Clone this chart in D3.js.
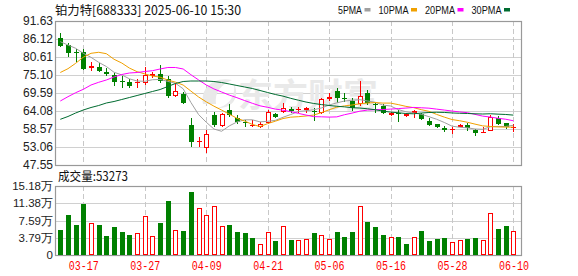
<!DOCTYPE html>
<html><head><meta charset="utf-8">
<script src="https://cdn.jsdelivr.net/npm/d3@7"></script>
<style>body{margin:0;background:#fff}svg{display:block}</style>
</head><body><svg id="c" width="578" height="276"></svg>
<script>
const dates = ["03-12","03-13","03-14","03-17","03-18","03-19","03-20","03-21","03-24","03-25",
"03-26","03-27","03-28","03-31","04-01","04-02","04-03","04-07","04-08","04-09",
"04-10","04-11","04-14","04-15","04-16","04-17","04-18","04-21","04-22","04-23",
"04-24","04-25","04-28","04-29","04-30","05-06","05-07","05-08","05-09","05-12",
"05-13","05-14","05-15","05-16","05-19","05-20","05-21","05-22","05-23","05-26",
"05-27","05-28","05-29","05-30","06-03","06-04","06-05","06-06","06-09","06-10"];
const open = [86.33,84.28,82.14,82.23,77.15,77.46,76.11,75.10,73.36,73.05,
72.56,72.56,74.79,75.41,73.88,68.76,69.28,59.79,54.45,52.85,
62.86,59.58,64.39,61.85,60.62,59.49,59.27,60.31,63.16,63.87,
64.78,64.29,64.48,64.17,63.38,67.75,70.20,67.97,67.14,66.22,
69.68,66.22,65.70,62.76,63.56,62.70,63.38,63.07,61.02,60.01,
58.97,58.17,59.27,59.79,58.26,57.56,58.05,62.03,60.31,58.75];
const high = [87.86,84.99,82.97,82.97,79.17,78.87,77.15,75.80,74.79,73.88,
73.78,77.46,76.11,78.16,74.79,72.56,69.99,61.85,56.03,58.26,
63.87,63.38,66.22,62.86,61.33,61.33,60.71,64.39,63.56,66.44,
65.40,65.40,65.40,64.91,68.15,69.50,71.03,69.50,67.97,73.36,
70.51,66.40,66.22,63.87,64.39,63.56,64.39,63.56,61.85,60.10,
59.49,59.27,60.10,60.31,58.48,59.27,62.86,62.55,60.50,60.01];
const low = [83.76,80.70,79.17,76.63,76.42,76.02,74.89,71.82,71.03,71.21,
71.03,72.04,74.27,72.74,68.15,68.46,66.22,53.15,52.97,51.32,
59.27,59.27,62.15,60.10,59.09,59.09,58.88,60.01,61.85,63.56,
63.56,63.38,63.56,61.11,63.16,67.14,66.62,66.93,64.08,65.61,
65.92,63.56,63.16,62.55,60.80,62.15,62.03,61.33,59.49,58.97,
57.74,57.04,59.09,58.05,56.43,57.44,57.96,59.79,58.48,57.74];
const close = [84.07,81.93,81.85,76.84,77.85,76.42,75.50,73.05,72.87,71.82,
73.05,75.10,75.41,73.36,68.76,70.20,66.62,54.68,54.80,56.95,
59.79,63.16,62.86,60.80,60.31,59.79,60.01,63.77,62.15,65.09,
63.99,64.60,65.00,63.68,67.75,68.46,67.97,67.75,64.91,68.67,
66.44,66.01,63.40,63.56,63.20,63.10,64.08,61.54,59.79,59.27,
58.17,58.48,59.79,58.97,57.44,57.74,62.34,60.10,59.15,59.25];
// volume in 万 (10k lots)
const volume = [5.60,8.86,6.69,11.26,7.12,6.69,4.29,6.25,5.16,4.51,
4.94,8.65,4.22,6.97,11.91,5.60,5.23,13.94,10.32,8.86,
10.82,6.47,6.69,5.01,4.79,3.79,2.33,5.16,3.05,6.47,
3.20,3.20,3.57,4.79,4.51,3.42,5.01,3.86,5.01,10.82,
7.34,6.25,4.51,4.07,3.86,2.33,4.07,5.38,3.05,3.42,
3.64,2.77,3.35,3.42,3.64,3.20,9.23,5.82,6.47,5.3273];
// moving-average values before enough visible history exists
const ma5Head = [85.29,84.28,83.27,81.74];
const ma10Head = [75.87,77.03,78.68,80.55,81.74,82.05,81.62,79.91,78.77];
const ma20Head = [67.14,68.46,69.68,70.72,72.04,72.87,73.57,74.49,75.25,75.71,
75.87,76.17,76.42,76.94,77.40,77.40,76.94,75.20,73.60];
const ma30Head = [61.54,62.40,63.47,64.39,65.15,65.76,66.53,66.99,67.60,68.21,
68.82,69.44,70.05,70.66,71.58,72.50,73.11,73.26,73.26,73.26,
73.11,72.80,72.35,71.89,71.43,70.97,70.36,69.74,69.13];
const priceTicks = [47.55,53.06,58.57,64.08,69.59,75.10,80.61,86.12,91.63];
const volTicks = [0,3.79,7.59,11.38,15.18];
const xTickLabels = ["03-17","03-27","04-09","04-21","05-06","05-16","05-28","06-10"];
const title = "铂力特[688333] 2025-06-10 15:30";
const volTitle = "成交量:53273";
const legendLabels = ["5PMA","10PMA","20PMA","30PMA"];
const maPeriods = [5,10,20,30];

const svg = d3.select("#c");
const P = {l:55, r:522, t:21, b:165};
const V = {t:186, b:255};
const colors = ["#a0a0a0","#f0a000","#ff00ff","#006b30"];
const RED = "#ff0000", GREEN = "#008000";

const x = d3.scalePoint().domain(dates).range([60.3, 513.4]);
const y = d3.scaleLinear().domain([priceTicks[0], priceTicks[priceTicks.length-1]]).range([P.b, P.t]);
const yv = d3.scaleLinear().domain([volTicks[0], volTicks[volTicks.length-1]]).range([V.b, V.t]);

svg.append("rect").attr("width",578).attr("height",276).attr("fill","#fff");

// grids
const grid = svg.append("g");
priceTicks.slice(1,-1).forEach(t=>{
  grid.append("line").attr("x1",P.l).attr("x2",P.r).attr("y1",Math.round(y(t))+0.5).attr("y2",Math.round(y(t))+0.5)
    .attr("stroke","#d0d0d0");
});
volTicks.slice(1,-1).forEach(t=>{
  grid.append("line").attr("x1",P.l).attr("x2",P.r).attr("y1",Math.round(yv(t))+0.5).attr("y2",Math.round(yv(t))+0.5)
    .attr("stroke","#d0d0d0");
});
xTickLabels.forEach(d=>{
  const xx = Math.round(x(d))+0.5;
  [[P.t,P.b],[V.t,V.b]].forEach(([a,b])=>{
    grid.append("line").attr("x1",xx).attr("x2",xx).attr("y1",a).attr("y2",b)
      .attr("stroke","#c8c8c8").attr("stroke-dasharray","5,3");
  });
});

// watermark
const wm = svg.append("g").attr("fill","#e9e9e9");
wm.append("path").attr("d","M203,104 C200,88 214,76 232,80 C222,84 214,92 216,104 Z M214,108 C228,108 236,96 234,84 C240,96 234,110 214,108 Z");
wm.append("text").attr("x",238).attr("y",107).attr("font-family","Noto Sans CJK SC").attr("font-weight","bold")
  .attr("font-size",33).attr("textLength",140).attr("lengthAdjust","spacingAndGlyphs").text("东方财富");

// frames
svg.append("rect").attr("x",P.l+0.5).attr("y",P.t+0.5).attr("width",P.r-P.l-1).attr("height",P.b-P.t)
  .attr("fill","none").attr("stroke","#999").attr("stroke-width",1.2);
svg.append("rect").attr("x",P.l+0.5).attr("y",V.t+0.5).attr("width",P.r-P.l-1).attr("height",V.b-V.t)
  .attr("fill","none").attr("stroke","#999").attr("stroke-width",1.2);

// candles
const cg = svg.append("g");
dates.forEach((d,i)=>{
  const cx = Math.round(x(d));
  const up = close[i] > open[i];
  const col = up ? RED : GREEN;
  cg.append("line").attr("x1",cx+0.5).attr("x2",cx+0.5).attr("y1",y(high[i])).attr("y2",y(low[i]))
    .attr("stroke",col).attr("stroke-width",1).attr("shape-rendering","crispEdges");
  const top = Math.round(y(Math.max(open[i],close[i])));
  let bot = Math.round(y(Math.min(open[i],close[i])));
  if (bot - top < 1) bot = top + 1;
  if (up && bot - top >= 3) {
    cg.append("rect").attr("x",cx-2+0.5).attr("y",top+0.5).attr("width",4).attr("height",bot-top-1)
      .attr("fill","#fff").attr("stroke",col).attr("stroke-width",1);
  } else {
    cg.append("rect").attr("x",cx-2).attr("y",top).attr("width",5).attr("height",Math.max(1,bot-top))
      .attr("fill",col).attr("shape-rendering","crispEdges");
  }
});

// moving averages
const heads = [ma5Head, ma10Head, ma20Head, ma30Head];
const line = d3.line().x((v,i)=>x(dates[i])).y(v=>y(v));
maPeriods.forEach((n,k)=>{
  const vals = close.map((c,i)=> i>=n-1 ? d3.mean(close.slice(i-n+1,i+1)) : heads[k][i]);
  svg.append("path").attr("d",line(vals)).attr("fill","none").attr("stroke",colors[k]).attr("stroke-width",1);
});

// volume bars
const vg = svg.append("g");
dates.forEach((d,i)=>{
  const cx = Math.round(x(d));
  const up = i>0 ? close[i] > close[i-1] : close[i] > open[i];
  const top = Math.round(yv(volume[i]));
  const bot = Math.round(yv(0));
  if (up) {
    vg.append("rect").attr("x",cx-2+0.5).attr("y",top+0.5).attr("width",4).attr("height",bot-top-1)
      .attr("fill","#fff").attr("stroke",RED);
  } else {
    vg.append("rect").attr("x",cx-2).attr("y",top).attr("width",5).attr("height",bot-top)
      .attr("fill",GREEN).attr("shape-rendering","crispEdges");
  }
});

// axes
const ay = svg.append("g").attr("transform",`translate(${P.l-2},0)`)
  .call(d3.axisLeft(y).tickValues(priceTicks).tickSize(0).tickPadding(0).tickFormat(d3.format(".2f")));
ay.select(".domain").remove();
ay.selectAll("text").attr("font-family","Liberation Sans, Arial").attr("font-size",12).attr("fill","#222");

const av = svg.append("g").attr("transform",`translate(${P.l-2},0)`)
  .call(d3.axisLeft(yv).tickValues(volTicks).tickSize(0).tickPadding(0).tickFormat(v=> v===0 ? "0" : d3.format(".2f")(v)+"万"));
av.select(".domain").remove();
av.selectAll("text").attr("font-family","Liberation Sans, Arial").attr("font-size",11.5).attr("fill","#222");

const ax = svg.append("g").attr("transform",`translate(0,${V.b})`)
  .call(d3.axisBottom(x).tickValues(xTickLabels).tickSize(0).tickPadding(0));
ax.select(".domain").remove();
ax.selectAll("text").attr("font-family","Liberation Mono, DejaVu Sans Mono, monospace").attr("font-size",12)
  .attr("fill",RED).attr("dy",null).attr("y",15).attr("textLength",30).attr("lengthAdjust","spacingAndGlyphs");

// title and legend
svg.append("text").attr("x",55).attr("y",15).attr("font-family","Noto Sans CJK SC").attr("font-size",12.5)
  .attr("fill","#111").attr("textLength",186).attr("lengthAdjust","spacingAndGlyphs").text(title);
let lx = 338;
legendLabels.forEach((lab,k)=>{
  const w = lab.length*6;
  svg.append("text").attr("x",lx).attr("y",14).attr("font-family","Liberation Sans, Arial").attr("font-size",11)
    .attr("fill","#111").attr("textLength",w).attr("lengthAdjust","spacingAndGlyphs").text(lab);
  svg.append("rect").attr("x",lx+w+2.5).attr("y",8).attr("width",6).attr("height",3.5).attr("fill",colors[k]);
  lx += w + 2.5 + 6 + 8;
});
svg.append("text").attr("x",58).attr("y",181).attr("font-family","Noto Sans CJK SC").attr("font-size",12.5)
  .attr("fill","#111").attr("textLength",70).attr("lengthAdjust","spacingAndGlyphs").text(volTitle);
</script></body></html>
